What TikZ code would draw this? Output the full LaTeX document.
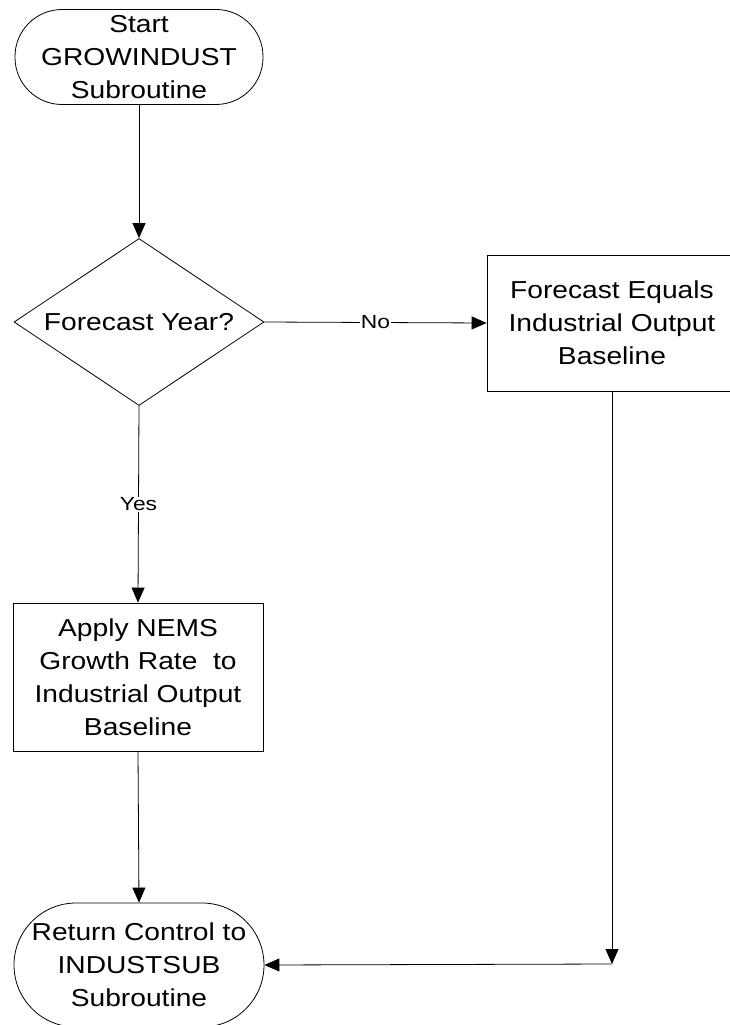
\documentclass[tikz,border=0pt]{standalone}
\usepackage{fontspec}
\setmainfont{Liberation Sans}[FakeStretch=1.15]
\newfontfamily\labelfont{Liberation Sans}[FakeStretch=1.2]
\usetikzlibrary{shapes.geometric,arrows.meta}

\tikzset{
  x=1pt, y=1pt,
  every node/.style={inner sep=0pt, align=center, font=\fontsize{24.5}{33}\selectfont},
  terminal/.style={draw, line width=0.8pt, minimum width=248pt},
  stepbox/.style={draw, line width=0.8pt, rectangle, minimum width=250pt},
  decision/.style={draw, line width=0.8pt, diamond, minimum width=250pt, minimum height=167pt},
  flow/.style={line width=0.8pt, -{Triangle[length=15pt,width=13pt]}},
  branch/.style={fill=white, inner sep=1pt, font=\labelfont\fontsize{19}{22}\selectfont}
}

\begin{document}
\begin{tikzpicture}
\useasboundingbox (0,0) rectangle (729,-1025);

% shapes
\node[terminal, minimum height=95pt, rounded corners=47pt] (start) at (139,-57)
  {Start\\GROWINDUST\\Subroutine};
% the question is set in a zero-width box so the diamond keeps its fixed size
\node[decision] (ask) at (139,-322) {\makebox[0pt]{Forecast Year?}};
\node[stepbox, minimum height=136pt] (equal) at (612,-323)
  {Forecast Equals\\Industrial Output\\Baseline};
\node[stepbox, minimum height=148pt] (apply) at (138,-677)
  {Apply NEMS\\Growth Rate\ \ to\\Industrial Output\\Baseline};
\node[terminal, minimum width=250pt, minimum height=124pt, rounded corners=62pt] (return) at (139,-965)
  {Return Control to\\INDUSTSUB\\Subroutine};
\coordinate (corner) at (612,-964);

% connectors
\draw[flow] (start.south) -- (ask.north);
\draw[flow] (ask.east) -- node[branch] {No} (equal.west);
\draw[flow] (ask.south) -- node[branch] {Yes} (apply.north);
\draw[flow] (apply.south) -- (return.north);
\draw[flow] (equal.south) -- (corner);
\draw[flow] (corner) -- (return.east);
\end{tikzpicture}
\end{document}
